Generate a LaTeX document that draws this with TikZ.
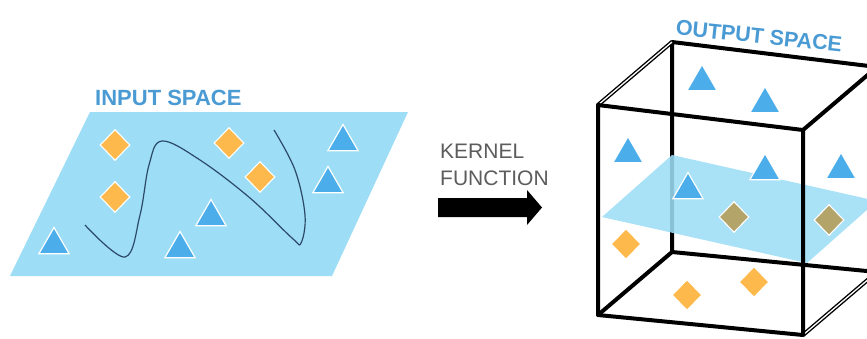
\documentclass[tikz,border=0pt]{standalone}
\usepackage{fontspec}
\setmainfont{Liberation Sans}
\usetikzlibrary{shapes.geometric}
\definecolor{PlaneBlue}{HTML}{9DDDF6}
\definecolor{TriBlue}{HTML}{4BAEEB}
\definecolor{Dia}{HTML}{FDB94B}
\definecolor{Olive}{HTML}{B3A46A}
\definecolor{Label}{HTML}{4A9AD4}
\definecolor{Curve}{HTML}{2C4A68}
\definecolor{Kern}{HTML}{5C5C5C}
\tikzset{
  tri/.style={regular polygon,regular polygon sides=3,minimum size=35pt,inner sep=0pt,fill=TriBlue,draw=white,line width=1.2pt},
  dia/.style={diamond,minimum width=30pt,minimum height=31pt,inner sep=0pt,fill=Dia,draw=white,line width=1.1pt},
  title/.style={font=\bfseries\fontsize{22}{24}\selectfont,text=Label,inner sep=0pt},
  kernel/.style={font=\fontsize{21}{24}\selectfont,text=Kern,inner sep=0pt,anchor=base west},
  cubeedge/.style={line width=4pt,black,line cap=round,line join=round},
  dbledge/.style={line width=1.4pt,black,double=white,double distance=1.3pt}
}
\begin{document}
\begin{tikzpicture}[x=1pt,y=-1pt]
  \useasboundingbox (0,0) rectangle (867,338);
  \clip (0,0) rectangle (867,338);
  % input space
  \fill[PlaneBlue] (90,112) -- (408,112) -- (332,276) -- (10,276) -- cycle;
  \node[title,anchor=base west] (intitle) at (95,105) {INPUT SPACE};
  \draw[Curve,line width=1.2pt] plot[smooth,tension=0.6] coordinates {(85,225) (125,257) (140,215) (149,165) (162,141) (200,160) (250,198) (292,238) (301,243) (305,215) (295,170) (274,130)};
  \foreach \x/\y [count=\i] in {115/145,115/197,229/143,260/177}
    \node[dia] (ind\i) at (\x,\y) {};
  \foreach \x/\y [count=\i] in {343/125,328/167,211/200,180/232,54/228}
    \node[tri] (int\i) at (\x,\y+17) {};
  % kernel function
  \node[kernel] (kern) at (440,158) {KERNEL};
  \node[kernel] (func) at (440,185) {FUNCTION};
  \fill[black] (438,198) -- (527,198) -- (527,190) -- (542,207.5) -- (527,225) -- (527,217) -- (438,217) -- cycle;
  % output space
  \coordinate (ftl) at (598,105);
  \coordinate (ftr) at (803,130);
  \coordinate (fbr) at (803,335);
  \coordinate (fbl) at (598,315);
  \coordinate (btl) at (672,42);
  \coordinate (btr) at (877,67);
  \coordinate (bbr) at (877,272);
  \coordinate (bbl) at (672,252);
  \draw[cubeedge] (btr) -- (btl) -- (bbl) -- (bbr);
  \draw[cubeedge] (fbl) -- (bbl);
  \draw[cubeedge] (ftr) -- (btr);
  \draw[dbledge] (ftl) -- (btl);
  \draw[dbledge] (fbr) -- (bbr);
  \foreach \x/\y [count=\i] in {626/244,687/295,754/282}
    \node[dia] (outd\i) at (\x,\y) {};
  \fill[PlaneBlue,opacity=0.88] (602,217) -- (672,155) -- (877,201) -- (807,263) -- cycle;
  \foreach \x/\y [count=\i] in {734/217,829/220}
    \node[dia,fill=Olive] (outo\i) at (\x,\y) {};
  \foreach \x/\y [count=\i] in {702/65,765/87,628/137,765/154,841/153,688/173}
    \node[tri] (outt\i) at (\x,\y+17) {};
  \draw[cubeedge] (ftl) -- (ftr) -- (fbr) -- (fbl) -- cycle;
  \node[title,font=\bfseries\fontsize{21.5}{24}\selectfont,rotate=-6] (outtitle) at (759,36) {OUTPUT SPACE};
\end{tikzpicture}
\end{document}
